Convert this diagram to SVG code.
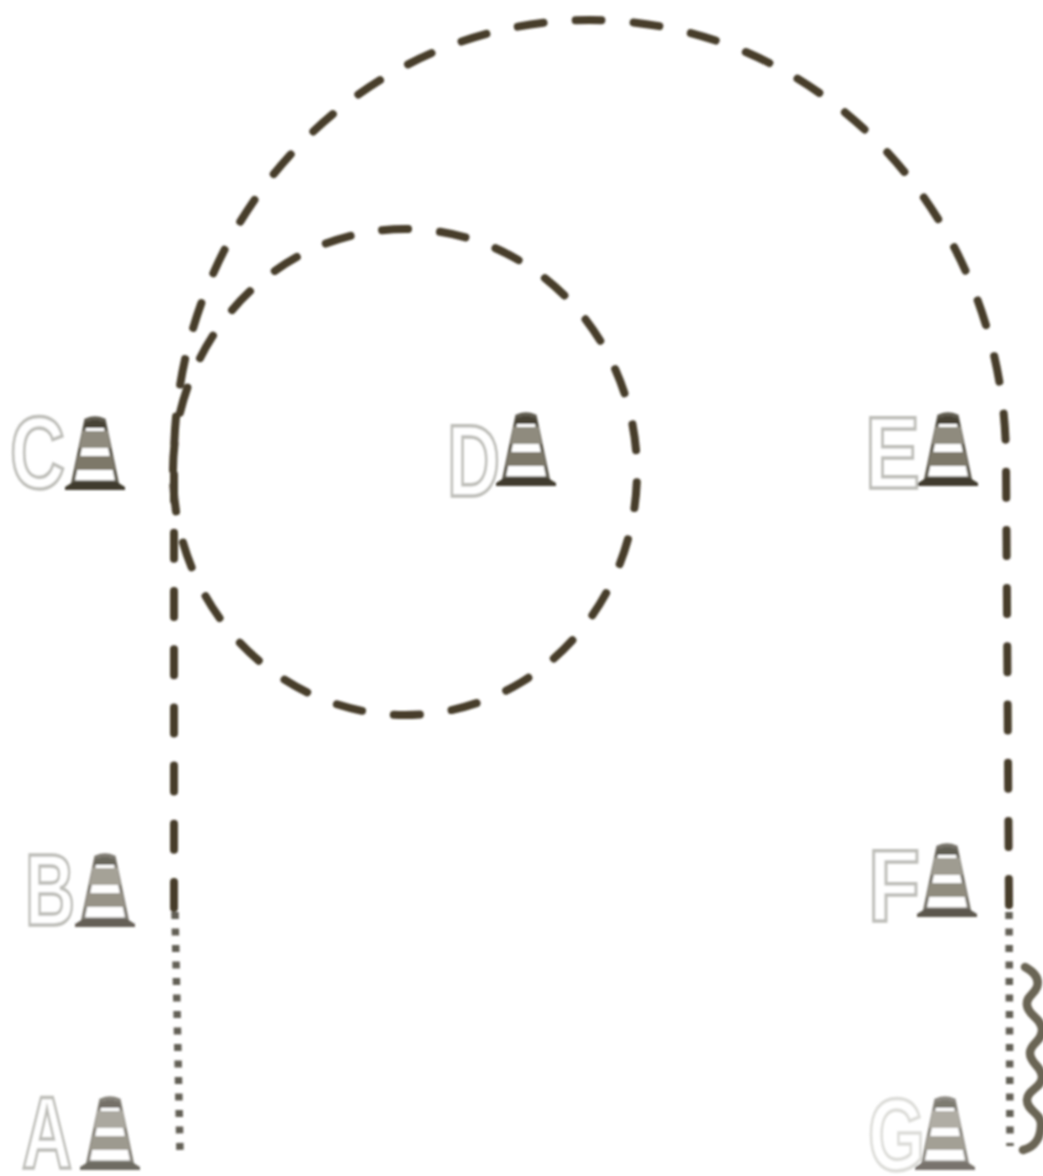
<svg xmlns="http://www.w3.org/2000/svg" width="1043" height="1176" viewBox="0 0 1043 1176">
<style>
.lbl{font-family:"Liberation Sans",Arial,sans-serif;font-weight:700;font-size:102px;fill:#fff;stroke:#bdbdb8;stroke-width:3.500}
.dash{fill:none;stroke:#463c2a;stroke-width:8;stroke-linecap:round}
.outer{stroke-dasharray:26 32.200}
.inner{stroke-dasharray:26 32}
.dot{fill:none;stroke:#625e54;stroke-width:7.500;stroke-dasharray:7 9.500}
.wave{fill:none;stroke:#6b6554;stroke-width:8.500;stroke-linecap:round}
</style>
<defs>
<filter id="soft" x="-5%" y="-5%" width="110%" height="110%"><feGaussianBlur stdDeviation="1"/></filter>
<g id="cone">
<path d="M-22 -6 L-9 -68 Q0 -72 9 -68 L22 -6 Z" fill="#fff" stroke="#5f5b50" stroke-width="3.500"/>
<path d="M-10 -66 Q0 -71 10 -66 L11.500 -60 L-11.500 -60 Z" fill="#474236"/>
<path d="M-12.500 -57 L12.500 -57 L15.500 -40 L-15.500 -40 Z" fill="#8f8b7e"/>
<path d="M-17 -32 L17 -32 L20 -18 L-20 -18 Z" fill="#7d7869"/>
<path d="M-30 -1 L-22 -6 L22 -6 L30 -1 L30 2 L-30 2 Z" fill="#3f3a2d"/>
</g>
</defs>
<rect width="1043" height="1176" fill="#fff"/>
<g filter="url(#soft)">
<g id="connectors">
<path class="dash outer" d="M174 908 L174 460 A416 440 0 0 1 1006 460 L1009 908"/>
<path class="dash inner" d="M173 470 A232 243 0 1 1 173 474"/>
<path class="dot" d="M175 912 L180 1152"/>
<path class="dot" d="M1009 912 L1010 1146"/>
<path class="wave" d="M1025 967 C1034 972 1040 978 1037 987 C1034 995 1026 996 1027 1005 C1028 1016 1042 1018 1042 1030 C1042 1042 1030 1043 1030 1053 C1030 1064 1042 1066 1042 1077 C1042 1088 1027 1090 1027 1100 C1027 1111 1041 1113 1041 1124 C1041 1136 1036 1147 1023 1150"/>
</g>
<g id="node-a"><text class="lbl" x="22" y="1168" textLength="50" lengthAdjust="spacingAndGlyphs">A</text><use href="#cone" x="110" y="1168" opacity="0.75"/></g>
<g id="node-b"><text class="lbl" x="25" y="925" textLength="50" lengthAdjust="spacingAndGlyphs">B</text><use href="#cone" x="105" y="925" opacity="0.8"/></g>
<g id="node-c"><text class="lbl" x="10" y="488" textLength="55" lengthAdjust="spacingAndGlyphs">C</text><use href="#cone" x="95" y="488"/></g>
<g id="node-d"><text class="lbl" x="447" y="496" textLength="53" lengthAdjust="spacingAndGlyphs">D</text><use href="#cone" x="526" y="484"/></g>
<g id="node-e"><text class="lbl" x="865" y="488" textLength="55" lengthAdjust="spacingAndGlyphs">E</text><use href="#cone" x="948" y="484"/></g>
<g id="node-f"><text class="lbl" x="868" y="921" textLength="52" lengthAdjust="spacingAndGlyphs">F</text><use href="#cone" x="947" y="915" opacity="0.85"/></g>
<g id="node-g"><text class="lbl" x="868" y="1170" textLength="57" lengthAdjust="spacingAndGlyphs" style="stroke:#dcdcd8">G</text><use href="#cone" x="945" y="1168" opacity="0.7"/></g>
</g>
</svg>
